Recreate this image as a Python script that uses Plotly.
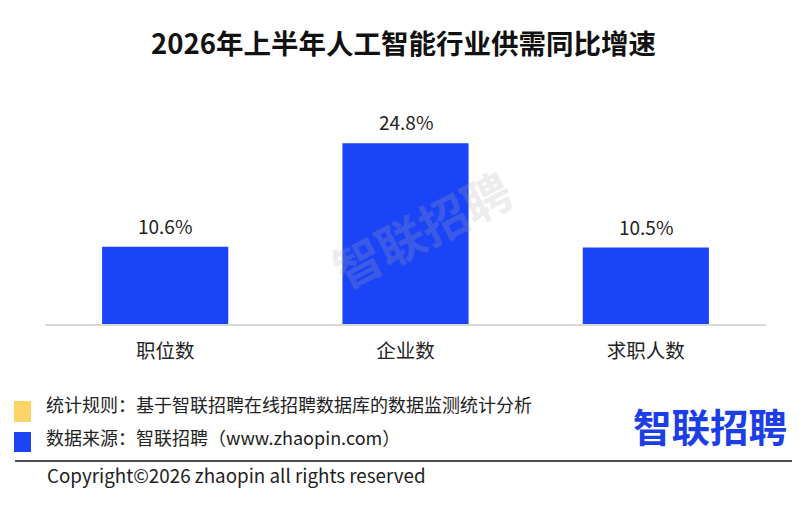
import plotly.graph_objects as go

# chart data
categories = ["职位数", "企业数", "求职人数"]
growth_pct = [10.6, 24.8, 10.5]
bar_labels = ["10.6%", "24.8%", "10.5%"]

title_text = "2026年上半年人工智能行业供需同比增速"
note_rule = "统计规则：基于智联招聘在线招聘数据库的数据监测统计分析"
note_source = "数据来源：智联招聘（www.zhaopin.com）"
copyright_text = "Copyright©2026 zhaopin all rights reserved"
brand = "智联招聘"

W, H = 805, 507
FONT = "Noto Sans CJK SC"
BLUE = "#1c44f7"
YELLOW = "#fdd467"

# the page body adds an 8px margin, so shift everything back by that much
OFF = 8
# plot area in screen pixels (as seen in the reference)
L, R, T, B = 45, 766, 120, 324


def px(x):
    return (x - L) / (R - L)


def py(y):
    return (B - y) / (B - T)


fig = go.Figure(
    go.Bar(
        x=categories,
        y=growth_pct,
        marker={"color": BLUE, "line": {"width": 0}},
        width=0.525,
        hoverinfo="skip",
    )
)

# value labels above the bars
for cat, val, lab in zip(categories, growth_pct, bar_labels):
    fig.add_annotation(
        x=cat, y=val, text=lab, showarrow=False, yanchor="bottom", yshift=6,
        font={"size": 19, "color": "#222222", "family": FONT},
    )

fig.update_layout(
    width=W,
    height=H,
    margin={"l": L - OFF, "r": W - R + OFF, "t": T - OFF, "b": H - B + OFF},
    plot_bgcolor="white",
    paper_bgcolor="white",
    font={"family": FONT, "color": "#222222"},
    showlegend=False,
)
fig.update_xaxes(
    showline=True,
    linecolor="#d9d9d9",
    linewidth=1.5,
    ticks="",
    ticklabelstandoff=9,
    tickfont={"size": 19.5, "family": FONT, "color": "#222222"},
    showgrid=False,
)
fig.update_yaxes(range=[0, 28], visible=False, showgrid=False)

annotations = [
    # title
    dict(text=f"<b>{title_text}</b>", x=px(403), y=py(42), font={"size": 27.5, "color": "#111111"}),
    # watermark
    dict(text=f"<b>{brand}</b>", x=px(421), y=py(228), textangle=-27,
         font={"size": 48, "color": "rgba(170,170,170,0.22)"}),
    # footnotes
    dict(text=note_rule, x=px(44), y=py(404), xanchor="left", font={"size": 18, "color": "#222222"}),
    dict(text=note_source, x=px(44), y=py(437), xanchor="left", font={"size": 18, "color": "#222222"}),
    dict(text=copyright_text, x=px(45), y=py(474), xanchor="left", font={"size": 18.8, "color": "#222222"}),
    # logo text
    dict(text=f"<b>{brand}</b>", x=px(710), y=py(425), font={"size": 38.5, "color": "#1b3ee6"}),
]
for a in annotations:
    a.setdefault("xanchor", "center")
    fig.add_annotation(xref="paper", yref="paper", showarrow=False, yanchor="middle", **a)

shapes = [
    dict(type="rect", x0=px(14), x1=px(31), y0=py(401), y1=py(422), fillcolor=YELLOW, line={"width": 0}),
    dict(type="rect", x0=px(14), x1=px(31), y0=py(432), y1=py(452), fillcolor=BLUE, line={"width": 0}),
    dict(type="line", x0=px(15), x1=px(792), y0=py(461), y1=py(461), line={"color": "#111111", "width": 1.5}),
]
for s in shapes:
    fig.add_shape(xref="paper", yref="paper", layer="above", **s)

fig.write_html("out.html")
